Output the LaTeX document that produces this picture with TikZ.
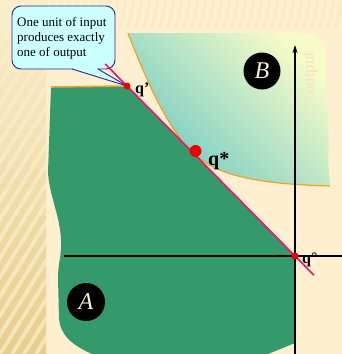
\documentclass[tikz,border=0pt]{standalone}
\usepackage{fontspec}
\setmainfont{Liberation Serif}
\usetikzlibrary{arrows.meta,positioning,calc}
\definecolor{bgbeige}{RGB}{253,239,207}
\definecolor{bandtan}{RGB}{232,206,140}
\definecolor{bandlight}{RGB}{251,238,205}
\definecolor{regiongreen}{RGB}{52,153,107}
\definecolor{bteal}{RGB}{112,202,195}
\definecolor{byellow}{RGB}{247,251,200}
\definecolor{curveorange}{RGB}{242,160,40}
\definecolor{budgetpink}{RGB}{240,20,110}
\definecolor{dotred}{RGB}{238,0,0}
\definecolor{notecyan}{RGB}{204,255,255}
\definecolor{noteblue}{RGB}{40,40,150}
\definecolor{circtext}{RGB}{252,242,210}
\definecolor{fainttext}{RGB}{246,224,200}

\begin{document}
\begin{tikzpicture}[x=1pt, y=-1pt,
    dot/.style={circle, fill=dotred, inner sep=0pt, minimum size=7pt},
    bigdot/.style={circle, fill=dotred, inner sep=0pt, minimum size=12pt},
    qlab/.style={anchor=base west, inner sep=0pt, font=\fontsize{16}{16}\selectfont\bfseries},
    circlab/.style={circle, fill=black, text=circtext, minimum size=38pt, inner sep=0pt,
                    font=\fontsize{24}{24}\selectfont\itshape},
    axisline/.style={line width=1.2pt, black},
    budget/.style={line width=1.6pt, budgetpink},
    indiff/.style={line width=1.2pt, curveorange},
    notebox/.style={draw=noteblue, fill=notecyan, line width=0.9pt, rounded corners=9pt}]
\useasboundingbox (0,0) rectangle (342,354);
\fill[bgbeige] (0,0) rectangle (342,354);
% striped band on the left
\begin{scope}
  \clip (0,0) rectangle (46,354);
  \shade[top color=bandlight, bottom color=bandtan] (0,0) rectangle (46,354);
  \foreach \s in {-228,-216,...,48}
    \draw[bandlight, line width=4pt, opacity=0.7] (\s,354) -- ++(221,-354);
\end{scope}
\begin{scope}
  \clip (46,0) rectangle (342,28);
  \foreach \s in {40,48,...,344}
    \draw[bandtan, line width=3pt, opacity=0.12] (\s,28) -- ++(6,-28);
\end{scope}

\coordinate (qp) at (127,86);
\coordinate (qo) at (295,256);

% region B with the indifference curve
\shade[top color=byellow, bottom color=bteal, shading angle=-45]
  (128,33) -- (295,33) .. controls (318,33) and (326,40) .. (326,58)
  .. controls (324,100) and (331,130) .. (328,160) -- (330,186)
  .. controls (255,184) and (215,175) .. (192,152)
  .. controls (168,128) and (148,85) .. (128,33) -- cycle;
\draw[indiff] (128,33) .. controls (148,85) and (168,128) .. (192,152)
  .. controls (215,175) and (255,184) .. (330,186);

% region A
\fill[regiongreen] (51,87) -- (qp) -- (qo) -- (295,343) -- (268,354) -- (92,354)
  .. controls (72,345) and (60,335) .. (59,318) -- (58,278)
  .. controls (58,262) and (62,255) .. (61,240)
  .. controls (60,215) and (49,195) .. (48,172) -- cycle;
\draw[curveorange, line width=1.6pt] (51,87) -- (qp);

% axes
\coordinate (xleft) at (64,256);
\coordinate (xright) at (342,256);
\coordinate (ybottom) at (295,354);
\coordinate (ytop) at (295,45);
\draw[axisline] (xleft) -- (xright);
\draw[axisline, -{Stealth[length=8pt,width=5pt]}] (ybottom) -- (ytop);
\node[rotate=90, text=fainttext, font=\fontsize{17}{17}\selectfont] (ylab) at (311,73) {output};

% callout
\draw[notebox] (12,6) rectangle (115,69);
\fill[notecyan] (72,69) -- (qp) -- (98,69) -- cycle;
\fill[notecyan] (72.6,68.2) rectangle (97.4,69.8);
\draw[noteblue, line width=0.9pt] (72,69) -- (qp) -- (98,69);
\node[anchor=north west, align=left, inner sep=0pt, font=\fontsize{13}{15}\selectfont]
  (note) at (17,17) {One unit of input\\produces exactly\\one of output};

% budget line
\draw[budget, shorten <=-31pt, shorten >=-27pt] (qp) -- (qo);

\node[dot] (qpdot) at (qp) {};
\node[dot] (qodot) at (qo) {};
\node[bigdot] (qsdot) at (195.5,151) {};
\node[qlab] (qplab) at (135,93) {q'};
\node[qlab, font=\fontsize{20}{20}\selectfont\bfseries] (qslab) at (208,165) {q*};
\node[qlab] (qolab) at (302,263) {q°};

\node[circlab] (labA) at (86,302) {A};
\node[circlab, minimum size=37pt] (labB) at (262,71) {B};
\end{tikzpicture}
\end{document}
